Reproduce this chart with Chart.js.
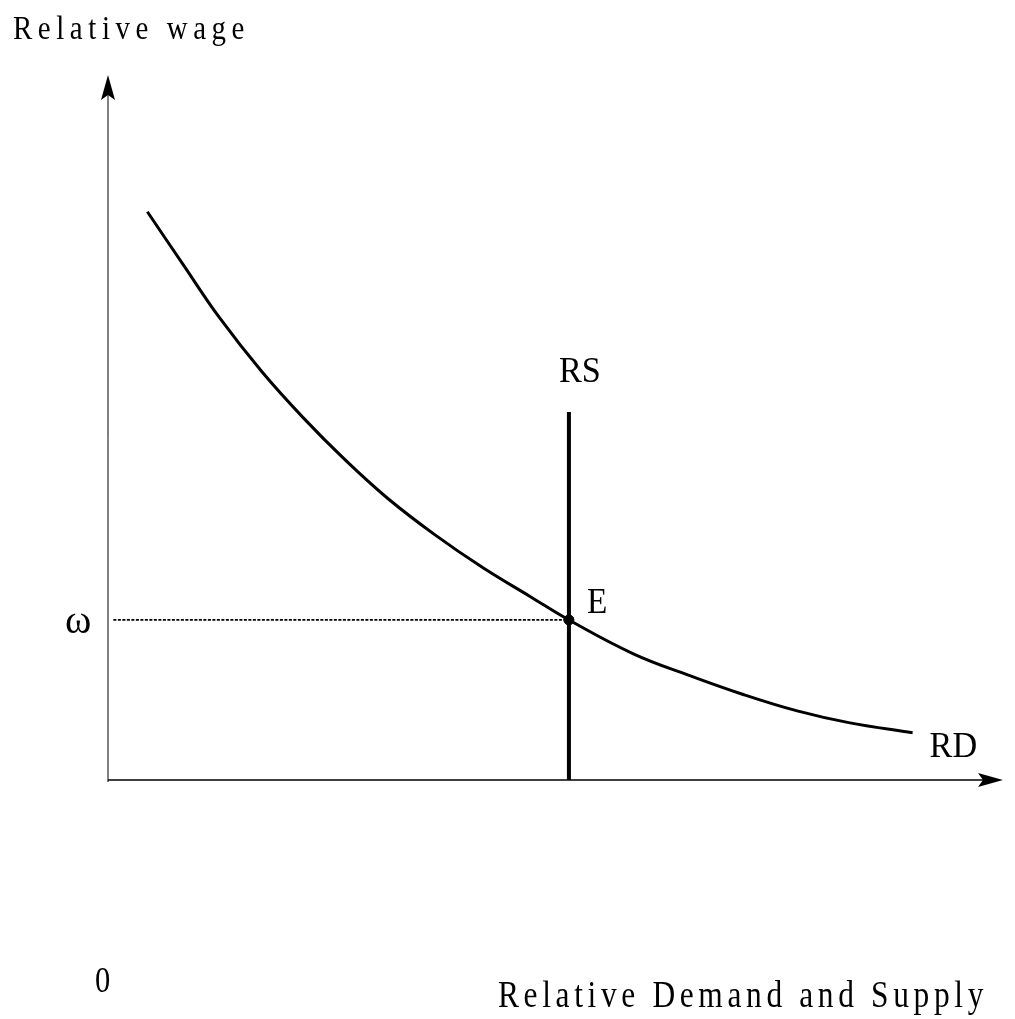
<!DOCTYPE html>
<html lang="en">
    <head>
        <meta charset="UTF-8">
        <title>Relative wage: RD and RS</title>
        <script src="https://cdn.jsdelivr.net/npm/chart.js"></script>
        <style>
            body { margin: 0; background: #fff; }
            #wrap { width: 1015px; height: 1019px; }
        </style>
    </head>
    <body>
        <div id="wrap"><canvas id="wageChart" width="1015" height="1019"></canvas></div>
        <script>
            // relative demand curve RD (axis units 0..100)
            const rdX = [4.4, 8.4, 12.5, 17.2, 21.8, 26.5, 31.2, 36.5, 41.9, 47.2, 51.5, 58.7, 65.0, 70.8, 77.0, 82.9, 89.9];
            const rdY = [80.6, 73.1, 65.5, 57.9, 51.4, 45.4, 40.0, 34.8, 30.1, 26.0, 22.7, 17.9, 14.8, 12.2, 9.8, 8.1, 6.7];

            // relative supply RS (vertical) and the equilibrium E
            const rsX = 51.5;
            const rsY = [0, 52.2];
            const omega = 22.7;
            const dotStartX = 0.6;

            const labels = {
                yTitle: 'Relative wage',
                xTitle: 'Relative Demand and Supply',
                origin: '0',
                omega: 'ω',
                rs: 'RS',
                rd: 'RD',
                e: 'E'
            };

            const SERIF = '"Liberation Serif", "Times New Roman", serif';

            function drawText(ctx, text, x, y, size, sx, width) {
                ctx.save();
                ctx.font = size + 'px ' + SERIF;
                ctx.fillStyle = '#000';
                ctx.textBaseline = 'alphabetic';
                ctx.textAlign = 'left';
                ctx.letterSpacing = '0px';
                let spacing = 0;
                if (width) {
                    const w = ctx.measureText(text).width;
                    spacing = (width / sx - w) / text.length;
                }
                ctx.letterSpacing = spacing + 'px';
                ctx.translate(x, y);
                ctx.scale(sx, 1);
                ctx.fillText(text, 0, 0);
                ctx.restore();
            }

            const axesPlugin = {
                id: 'axesPlugin',
                beforeDatasetsDraw(chart) {
                    const ctx = chart.ctx;
                    const xs = chart.scales.x, ys = chart.scales.y;
                    const x0 = xs.getPixelForValue(0), y0 = ys.getPixelForValue(0);
                    const xEnd = xs.getPixelForValue(100), yEnd = ys.getPixelForValue(100);
                    ctx.save();
                    ctx.strokeStyle = '#000';
                    ctx.fillStyle = '#000';
                    ctx.lineWidth = 1;
                    ctx.beginPath();
                    ctx.moveTo(x0, y0 + 2);
                    ctx.lineTo(x0, yEnd + 20);
                    ctx.stroke();
                    ctx.lineWidth = 1.5;
                    ctx.beginPath();
                    ctx.moveTo(x0, y0);
                    ctx.lineTo(xEnd - 20, y0);
                    ctx.stroke();
                    // arrow heads
                    ctx.beginPath();
                    ctx.moveTo(x0, yEnd);
                    ctx.lineTo(x0 + 7, yEnd + 25);
                    ctx.lineTo(x0, yEnd + 20);
                    ctx.lineTo(x0 - 7, yEnd + 25);
                    ctx.closePath();
                    ctx.fill();
                    ctx.beginPath();
                    ctx.moveTo(xEnd, y0);
                    ctx.lineTo(xEnd - 25, y0 - 7);
                    ctx.lineTo(xEnd - 20, y0);
                    ctx.lineTo(xEnd - 25, y0 + 7);
                    ctx.closePath();
                    ctx.fill();
                    ctx.restore();
                },
                afterDraw(chart) {
                    const ctx = chart.ctx;
                    const xs = chart.scales.x, ys = chart.scales.y;
                    const x0 = xs.getPixelForValue(0), y0 = ys.getPixelForValue(0);
                    const rsPx = xs.getPixelForValue(rsX);
                    const omPx = ys.getPixelForValue(omega);
                    const rsTop = ys.getPixelForValue(rsY[1]);
                    const last = rdX.length - 1;
                    const rdPx = xs.getPixelForValue(rdX[last]);
                    const rdPy = ys.getPixelForValue(rdY[last]);

                    drawText(ctx, labels.yTitle, 13, 39, 34, 0.85, 237);
                    drawText(ctx, labels.xTitle, 498, 1007, 37, 0.85, 490);
                    drawText(ctx, labels.origin, x0 - 13, y0 + 212, 36, 0.85);
                    drawText(ctx, labels.omega, 65, omPx + 13, 40, 1);
                    drawText(ctx, labels.rs, rsPx - 10, rsTop - 30, 36, 0.95);
                    drawText(ctx, labels.e, rsPx + 18, omPx - 7, 35, 0.95);
                    drawText(ctx, labels.rd, rdPx + 17, rdPy + 24, 36, 0.95);
                }
            };

            new Chart(document.getElementById('wageChart'), {
                type: 'scatter',
                data: {
                    datasets: [
                        {
                            label: 'ω',
                            data: [{ x: dotStartX, y: omega }, { x: rsX, y: omega }],
                            showLine: true,
                            borderColor: '#000',
                            borderWidth: 1.8,
                            borderDash: [3, 1.5],
                            pointRadius: 0
                        },
                        {
                            label: 'RS',
                            data: rsY.map(y => ({ x: rsX, y: y })),
                            showLine: true,
                            borderColor: '#000',
                            borderWidth: 4,
                            pointRadius: 0
                        },
                        {
                            label: 'RD',
                            data: rdX.map((x, i) => ({ x: x, y: rdY[i] })),
                            showLine: true,
                            borderColor: '#000',
                            borderWidth: 3,
                            tension: 0.4,
                            pointRadius: 0
                        },
                        {
                            label: 'E',
                            data: [{ x: rsX, y: omega }],
                            backgroundColor: '#000',
                            borderColor: '#000',
                            pointRadius: 5
                        }
                    ]
                },
                options: {
                    responsive: false,
                    animation: false,
                    layout: { padding: { left: 108, right: 12, top: 75, bottom: 239 } },
                    plugins: {
                        legend: { display: false },
                        tooltip: { enabled: false }
                    },
                    scales: {
                        x: { type: 'linear', min: 0, max: 100, display: false },
                        y: { type: 'linear', min: 0, max: 100, display: false }
                    }
                },
                plugins: [axesPlugin]
            });
        </script>
    </body>
</html>
